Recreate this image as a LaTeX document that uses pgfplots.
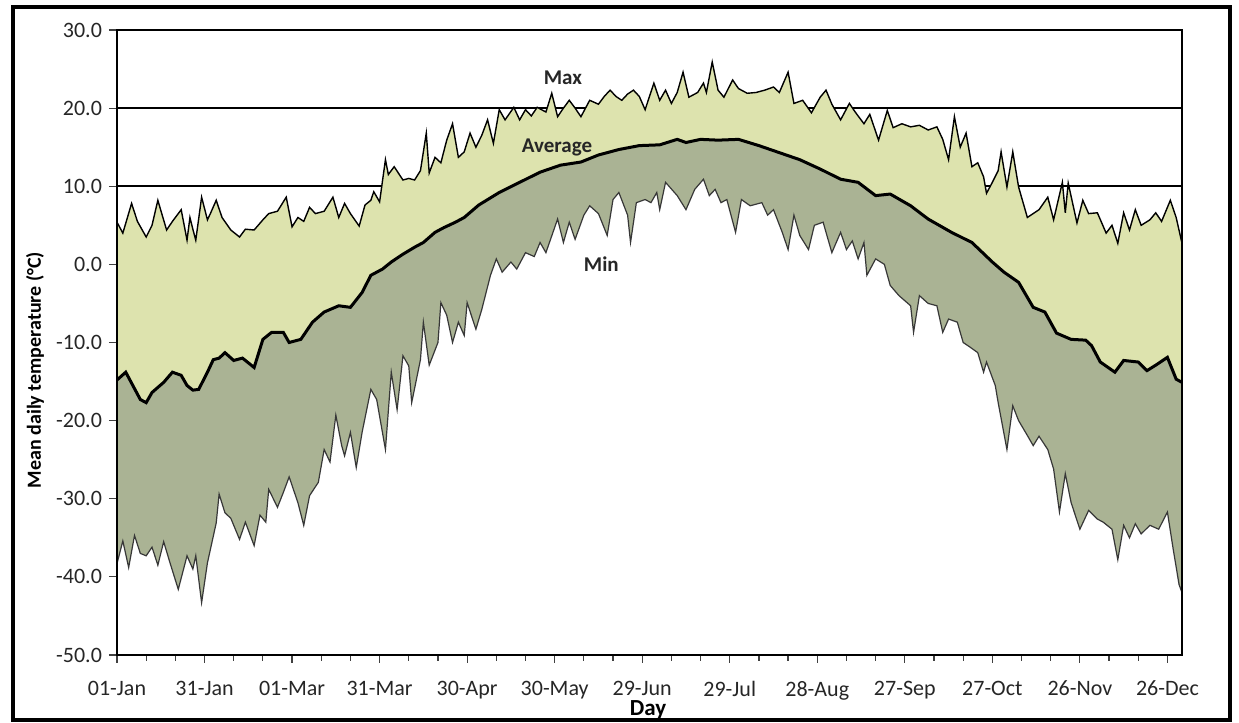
\documentclass[border=0pt]{standalone}
\usepackage{fontspec}
\setmainfont{Carlito}
\usepackage{pgfplots}
\pgfplotsset{compat=1.18}
\usepackage{pgfplotstable}
\usepgfplotslibrary{fillbetween}
\usetikzlibrary{calc}
\definecolor{maxfill}{RGB}{221,227,174}
\definecolor{avgfill}{RGB}{170,179,148}
\definecolor{minline}{RGB}{55,55,55}

\pgfplotstableread{
day val
1 5.4
3 4.0
6 7.8
8 5.5
11 3.5
13 5.0
15 8.2
18 4.4
20 5.5
23 7.0
25 3.1
26 6.0
27 4.5
28 3.1
30 8.6
32 5.7
33 6.5
35 8.2
37 6.0
40 4.4
43 3.5
45 4.5
48 4.4
51 5.7
53 6.5
56 6.8
59 8.6
61 4.8
63 6.0
65 5.5
67 7.3
69 6.5
72 6.8
75 8.6
77 6.0
79 7.8
81 6.5
84 4.9
86 7.6
88 8.2
89 9.3
91 8.0
93 13.4
94 11.5
96 12.5
99 10.8
101 11.0
103 10.8
105 12.0
107 16.8
108 11.7
110 13.7
112 13.0
114 15.9
116 18.0
118 13.7
120 14.4
122 16.8
124 15.0
126 16.5
128 18.5
130 15.5
132 19.8
134 18.5
137 20.1
139 18.5
141 19.8
143 19.0
145 20.1
148 19.5
150 21.9
152 18.9
154 20.0
156 21.0
158 20.0
160 18.9
163 21.0
166 20.5
168 21.5
170 22.3
172 21.5
174 21.0
176 21.8
178 22.3
180 21.5
182 19.8
185 23.2
187 21.0
189 22.3
191 20.6
193 22.0
195 24.6
197 21.4
200 22.0
202 23.2
203 22.0
205 25.9
207 22.3
209 21.4
212 23.6
214 22.5
217 21.9
220 22.0
223 22.3
226 22.7
228 22.0
231 24.6
233 20.6
236 21.0
239 19.4
242 21.4
244 22.3
246 20.5
249 18.5
252 20.6
254 19.5
257 18.0
259 19.2
262 15.9
265 19.7
267 17.5
270 18.0
273 17.6
276 17.8
279 17.2
282 17.6
284 16.0
286 13.4
288 18.9
290 15.0
292 16.8
294 12.5
296 13.0
298 11.2
299 9.1
301 10.5
303 12.0
304 14.4
306 9.9
308 14.4
310 9.9
313 6.0
315 6.5
317 7.0
320 8.6
322 5.7
325 10.5
326 6.6
327 10.4
330 5.3
332 8.2
334 6.5
337 6.6
340 4.0
342 5.0
344 2.7
346 6.6
348 4.4
350 7.0
352 5.0
355 5.7
357 6.6
359 5.5
362 8.2
364 6.0
366 2.7
}\maxdata

\pgfplotstableread{
day val
1 -14.8
4 -13.8
6 -15.2
9 -17.3
11 -17.7
13 -16.4
17 -15.1
20 -13.8
23 -14.2
25 -15.5
27 -16.1
29 -16.0
32 -13.8
34 -12.2
36 -12.0
38 -11.3
41 -12.3
44 -12.0
48 -13.2
51 -9.6
54 -8.7
58 -8.7
60 -10.0
62 -9.8
64 -9.6
68 -7.4
72 -6.1
77 -5.3
81 -5.5
85 -3.6
88 -1.4
92 -0.6
95 0.3
99 1.3
103 2.2
106 2.8
110 4.1
113 4.7
117 5.4
120 6.0
125 7.6
132 9.2
139 10.5
146 11.8
153 12.7
160 13.1
166 14.0
173 14.7
180 15.2
187 15.3
193 16.0
196 15.6
201 16.0
207 15.9
214 16.0
221 15.2
228 14.3
235 13.4
242 12.2
249 10.9
255 10.5
261 8.8
266 9.0
273 7.5
279 5.8
287 4.1
294 2.8
301 0.3
305 -1.0
310 -2.3
315 -5.5
319 -6.1
323 -8.8
328 -9.6
333 -9.7
335 -10.4
338 -12.5
343 -13.8
346 -12.3
351 -12.5
354 -13.6
357 -12.9
361 -11.9
364 -14.7
366 -15.1
}\avgdata

\pgfplotstableread{
day val
1 -38.3
3 -35.4
5 -38.8
7 -34.7
9 -37.0
11 -37.3
13 -36.2
15 -38.5
17 -35.5
19 -38.0
22 -41.6
25 -37.3
27 -39.0
28 -37.3
30 -43.3
32 -38.2
35 -33.1
36 -29.4
38 -31.8
40 -32.5
43 -35.2
45 -33.0
48 -36.0
50 -32.1
52 -33.0
53 -28.8
56 -31.1
58 -29.2
60 -27.2
63 -30.5
65 -33.4
67 -29.6
70 -27.9
72 -23.7
74 -25.3
76 -19.3
78 -23.2
79 -24.5
81 -21.5
83 -26.0
85 -21.5
88 -16.0
90 -17.3
93 -23.7
95 -13.8
97 -18.6
99 -11.7
101 -13.0
102 -17.7
105 -12.2
106 -7.4
108 -12.9
111 -10.0
112 -4.9
114 -6.5
116 -10.0
118 -7.4
120 -9.1
121 -4.9
124 -8.3
126 -5.8
129 -1.4
131 0.7
133 -1.0
136 0.3
138 -0.6
141 1.5
144 1.0
146 2.8
148 1.5
152 5.8
154 2.8
156 5.4
158 3.2
161 6.3
163 7.5
166 6.5
169 3.7
171 8.3
173 9.2
176 6.3
177 2.8
179 7.9
182 8.3
184 7.9
186 9.2
187 7.0
189 10.5
193 8.8
196 7.0
199 9.6
202 10.9
204 8.8
206 9.6
208 7.9
210 8.3
213 4.1
215 8.3
218 7.5
222 7.9
224 6.3
226 7.0
229 4.1
231 1.9
233 6.3
235 3.7
238 1.9
240 5.0
243 5.4
246 1.5
249 4.1
251 1.9
253 3.0
255 0.7
257 2.8
258 -1.4
261 0.7
264 0.0
266 -2.7
269 -4.0
273 -5.3
274 -8.7
276 -4.0
279 -5.0
282 -5.3
284 -8.7
286 -7.0
289 -7.4
291 -10.0
293 -10.5
296 -11.3
298 -13.8
299 -12.5
302 -15.5
303 -17.7
306 -23.7
308 -18.1
310 -20.0
313 -21.9
315 -23.2
317 -22.0
320 -23.7
322 -26.2
324 -31.7
326 -26.8
328 -30.5
331 -33.9
334 -31.5
337 -32.6
339 -33.0
342 -33.9
344 -37.8
346 -33.4
348 -35.0
350 -33.2
352 -34.5
355 -33.4
358 -33.9
361 -31.7
363 -36.5
365 -41.0
366 -42.0
}\mindata

\begin{document}
\begin{tikzpicture}
\begin{axis}[
  name=ax, at={(0,0)}, anchor=south west,
  scale only axis, width=532.5pt, height=312.5pt,
  xmin=1, xmax=366, ymin=-50, ymax=30,
  set layers,
  axis line style={black, line width=0.8pt},
  ytick={-50,-40,...,30},
  xtick={1,31,61,91,121,151,181,211,241,271,301,331,361},
  xticklabels={01-Jan,31-Jan,01-Mar,31-Mar,30-Apr,30-May,29-Jun,29-Jul,28-Aug,27-Sep,27-Oct,26-Nov,26-Dec},
  minor x tick num=2,
  tick align=outside, tick pos=left,
  major tick length=4pt, minor tick length=3pt,
  tick style={black!75, line width=0.6pt},
  ymajorgrids, grid style={black, line width=0.8pt},
  yticklabel style={/pgf/number format/fixed, /pgf/number format/fixed zerofill, /pgf/number format/precision=1, /pgf/number format/assume math mode=true},
  ticklabel style={font=\fontsize{11}{13}\selectfont, text=black!85},
  xticklabel style={yshift=-5.5pt},
  xlabel={Day}, ylabel={Mean daily temperature (°C)},
  xlabel style={font=\bfseries\fontsize{11.5}{13}\selectfont, at={(axis description cs:0.4986,-0.0875)}, anchor=center},
  ylabel style={font=\bfseries\fontsize{10}{12}\selectfont, at={(axis description cs:-0.077,0.456)}, anchor=center},
]
\addplot[draw=none, name path=base, forget plot] coordinates {(1,-50) (366,-50)};
\addplot[draw=none, name path=maxp, forget plot] table[x=day,y=val]{\maxdata};
\addplot[draw=none, name path=avgp, forget plot] table[x=day,y=val]{\avgdata};
\addplot[draw=none, name path=minp, forget plot] table[x=day,y=val]{\mindata};
\addplot[maxfill, draw=none] fill between[of=maxp and avgp];
\addplot[avgfill, draw=none] fill between[of=avgp and minp];
\addplot[white, draw=none] fill between[of=minp and base];
\addplot[black, line width=0.7pt] table[x=day,y=val]{\maxdata};
\addplot[minline, line width=0.6pt] table[x=day,y=val]{\mindata};
\addplot[black, line width=1.5pt] table[x=day,y=val]{\avgdata};
\node[font=\bfseries\fontsize{10.5}{12}\selectfont, text=black!85] at (axis cs:153.8,23.9) {Max};
\node[font=\bfseries\fontsize{10.5}{12}\selectfont, text=black!85] at (axis cs:151.8,14.9) {Average};
\node[font=\bfseries\fontsize{10.5}{12}\selectfont, text=black!85] at (axis cs:167,0) {Min};
\begin{pgfonlayer}{axis foreground}
\draw[black, line width=0.8pt] (rel axis cs:0,0) rectangle (rel axis cs:1,1);
\end{pgfonlayer}
\end{axis}
\pgfresetboundingbox
\path[use as bounding box] ($(ax.south west)+(-58.5pt,-34pt)$) rectangle ($(ax.north east)+(28.5pt,15pt)$);
\draw[line width=2pt] ($(ax.south west)+(-52pt,-32.5pt)$) rectangle ($(ax.north east)+(24pt,11.5pt)$);
\end{tikzpicture}
\end{document}
